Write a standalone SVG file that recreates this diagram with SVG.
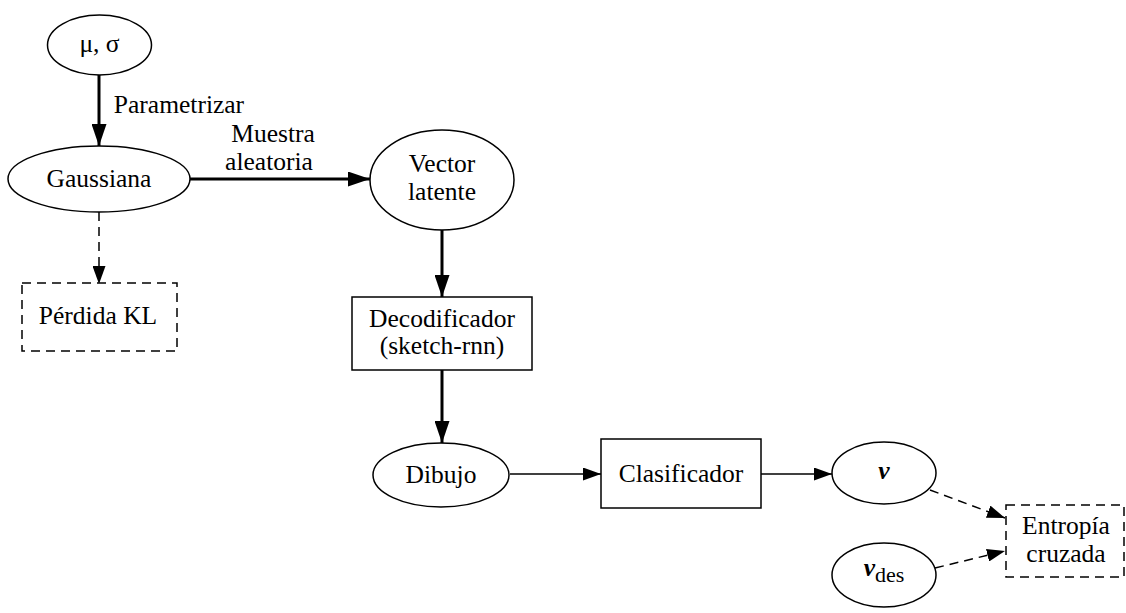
<svg xmlns="http://www.w3.org/2000/svg" width="1126" height="613" viewBox="0 0 1126 613">
  <defs>
    <marker id="arrowBig" viewBox="0 0 10 10" refX="10" refY="5" markerWidth="22" markerHeight="15" markerUnits="userSpaceOnUse" orient="auto" preserveAspectRatio="none">
      <path d="M0,0 L10,5 L0,10 Z" fill="#000"/>
    </marker>
    <marker id="arrowMid" viewBox="0 0 10 10" refX="10" refY="5" markerWidth="18" markerHeight="13" markerUnits="userSpaceOnUse" orient="auto" preserveAspectRatio="none">
      <path d="M0,0 L10,5 L0,10 Z" fill="#000"/>
    </marker>
  </defs>
  <style>
    .shape { fill: #fff; stroke: #000; stroke-width: 1.5; }
    .dashed { fill: #fff; stroke: #000; stroke-width: 1.5; stroke-dasharray: 9 6; }
    .lbl { font-family: "Liberation Serif", "Times New Roman", serif; font-size: 25.5px; fill: #000; text-anchor: middle; }
    .edge { fill: none; stroke: #000; stroke-width: 1.5; }
    .thick { fill: none; stroke: #000; stroke-width: 3; }
    .dash { fill: none; stroke: #000; stroke-width: 1.5; stroke-dasharray: 9 6; }
  </style>
  <rect width="1126" height="613" fill="#fff"/>

  <!-- connectors and their labels -->
  <g id="connectors">
    <line class="thick" x1="99" y1="75" x2="99" y2="146" marker-end="url(#arrowBig)"/>
    <text class="lbl" x="179" y="113">Parametrizar</text>
    <line class="thick" x1="190" y1="179" x2="370" y2="179" marker-end="url(#arrowBig)"/>
    <text class="lbl" x="273" y="142">Muestra</text>
    <text class="lbl" x="269" y="170">aleatoria</text>
    <line class="dash" x1="99" y1="212" x2="99" y2="284" marker-end="url(#arrowMid)"/>
    <line class="thick" x1="442" y1="230" x2="442" y2="297" marker-end="url(#arrowBig)"/>
    <line class="thick" x1="442" y1="370" x2="442" y2="443" marker-end="url(#arrowBig)"/>
    <line class="edge" x1="510" y1="474" x2="601" y2="474" marker-end="url(#arrowMid)"/>
    <line class="edge" x1="761" y1="474" x2="832" y2="474" marker-end="url(#arrowMid)"/>
    <line class="dash" x1="930" y1="490" x2="1005" y2="518" marker-end="url(#arrowMid)"/>
    <line class="dash" x1="935" y1="568" x2="1005" y2="551" marker-end="url(#arrowMid)"/>
  </g>

  <g id="mu-sigma">
    <ellipse class="shape" cx="99.5" cy="45" rx="52" ry="30"/>
    <text class="lbl" x="99.5" y="52">μ, σ</text>
  </g>

  <g id="gaussiana">
    <ellipse class="shape" cx="99" cy="179" rx="91" ry="33"/>
    <text class="lbl" x="99" y="187">Gaussiana</text>
  </g>

  <g id="perdida-kl">
    <rect class="dashed" x="22" y="283" width="155" height="68"/>
    <text class="lbl" x="98" y="324">Pérdida KL</text>
  </g>

  <g id="vector-latente">
    <ellipse class="shape" cx="442" cy="180" rx="72" ry="50"/>
    <text class="lbl" x="442" y="172">Vector</text>
    <text class="lbl" x="442" y="200">latente</text>
  </g>

  <g id="decodificador">
    <rect class="shape" x="352" y="297" width="180" height="73"/>
    <text class="lbl" x="442" y="327">Decodificador</text>
    <text class="lbl" x="442" y="354">(sketch-rnn)</text>
  </g>

  <g id="dibujo">
    <ellipse class="shape" cx="441" cy="475" rx="68" ry="32"/>
    <text class="lbl" x="441" y="483">Dibujo</text>
  </g>

  <g id="clasificador">
    <rect class="shape" x="601" y="439" width="160" height="69"/>
    <text class="lbl" x="681" y="482">Clasificador</text>
  </g>

  <g id="v">
    <ellipse class="shape" cx="884" cy="473" rx="52" ry="31"/>
    <text class="lbl" x="884" y="479" font-weight="bold" font-style="italic">v</text>
  </g>

  <g id="v-des">
    <ellipse class="shape" cx="884" cy="575" rx="52" ry="32"/>
    <text class="lbl" x="884" y="576"><tspan font-weight="bold" font-style="italic">v</tspan><tspan dy="6" font-size="22px">des</tspan></text>
  </g>

  <g id="entropia-cruzada">
    <rect class="dashed" x="1006" y="505" width="118" height="72"/>
    <text class="lbl" x="1066" y="534">Entropía</text>
    <text class="lbl" x="1066" y="562">cruzada</text>
  </g>
</svg>
